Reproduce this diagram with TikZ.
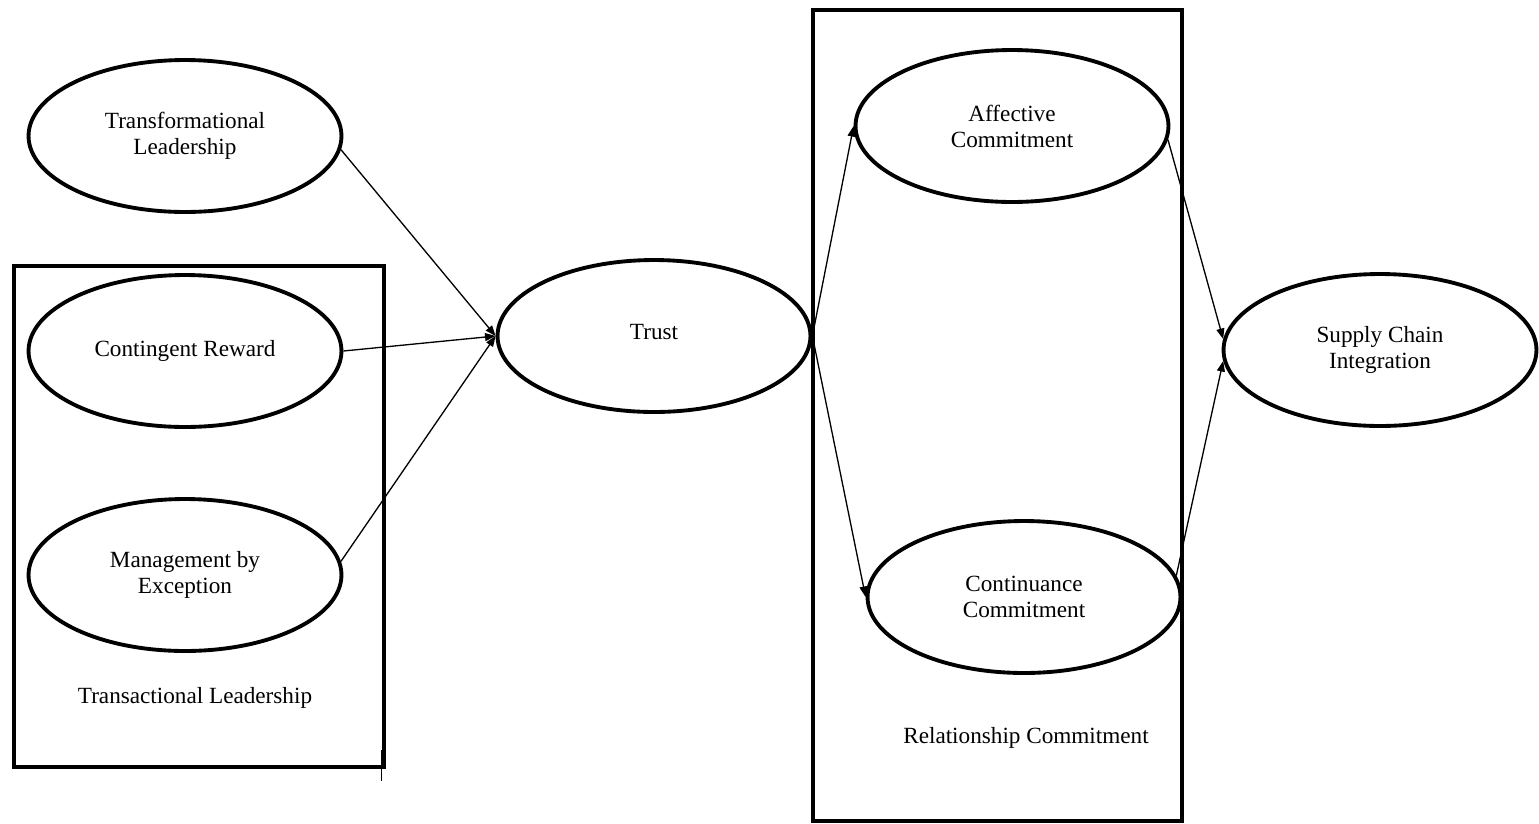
\documentclass[tikz,border=0pt]{standalone}
\usepackage{fontspec}
\setmainfont{Liberation Serif}
\usetikzlibrary{shapes.geometric}
\usetikzlibrary{arrows.meta}
\usetikzlibrary{positioning,calc}

\begin{document}
\begin{tikzpicture}[
         x=0.02cm, y=-0.02cm,
         construct/.style = {ellipse, draw, line width=2.2pt,
         minimum width=6.26cm, minimum height=3.04cm, align=center,
         font=\fontsize{13.2}{14.8}\selectfont},
         groupbox/.style = {draw, line width=2.2pt},
         grouplabel/.style = {font=\fontsize{13.2}{14.8}\selectfont},
         path/.style = {line width=0.75pt,
         -{Triangle[length=6pt,width=4.5pt]}}
]
         \useasboundingbox (0,0) rectangle (1539,823);

         % transactional leadership block
         \draw[groupbox] (14,266) rectangle (384,767);
         \draw[line width=0.5pt] (381,750) -- (381,781);
         \node[grouplabel] (tlab) at (195,698) {Transactional Leadership};

         % relationship commitment block
         \draw[groupbox] (813,10) rectangle (1182,821);
         \node[grouplabel] (rlab) at (1026,738) {Relationship Commitment};

         % leadership styles
         \node[construct] (tl)  at (185,136) {Transformational\\Leadership};
         \node[construct] (cr)  at (185,351) {Contingent Reward};
         \node[construct] (mbe) at (185,575) {Management by\\Exception};

         % mediator
         \node[construct] (trust) at (654,336)
            {\raisebox{2.4pt}[\height][\depth]{Trust}};

         % commitment
         \node[construct] (ac) at (1012,126) {Affective\\Commitment};
         \node[construct] (cc) at (1024,597) {Continuance\\Commitment};

         % outcome
         \node[construct] (sci) at (1380,350) {Supply Chain\\Integration};

         \draw[path] (tl.-5)   -- (trust.west);
         \draw[path] (cr.east) -- (trust.west);
         \draw[path] (mbe.5)   -- (trust.west);

         \draw[path] (trust.east) -- (ac.west);
         \draw[path] (trust.east) -- (cc.west);

         \draw[path] (ac.-5) -- (sci.176);
         \draw[path] (cc.8)  -- (sci.184);

\end{tikzpicture}
\end{document}
